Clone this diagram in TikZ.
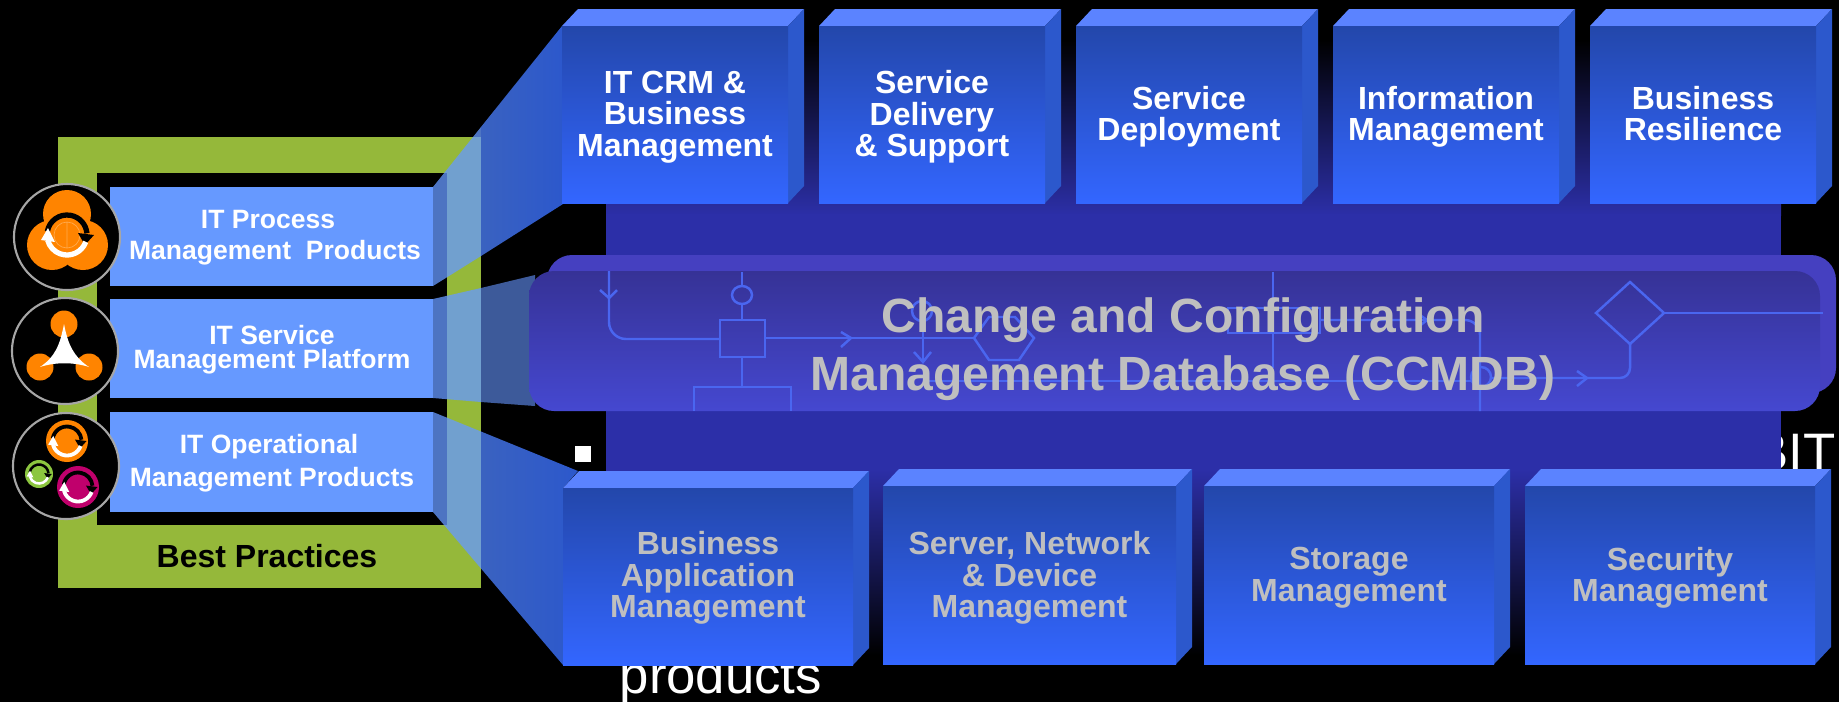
\documentclass[tikz,border=0pt]{standalone}
\usepackage{fontspec}
\setmainfont{Liberation Sans}
\definecolor{barblue}{HTML}{6699FF}
\definecolor{bestgreen}{HTML}{95B83A}
\definecolor{bandblue}{HTML}{2C2FA8}
\definecolor{topface}{HTML}{5B83FF}
\definecolor{sideface}{HTML}{2C58CC}
\definecolor{frontdark}{HTML}{2347AB}
\definecolor{frontlight}{HTML}{3366FF}
\definecolor{flowline}{HTML}{4A66F0}
\definecolor{labelgrey}{HTML}{BFBFBF}
\definecolor{iconorange}{HTML}{FF8400}
\definecolor{iconpink}{HTML}{C0006C}
\definecolor{icongreen}{HTML}{8CC63F}
\definecolor{wedgegrey}{HTML}{3D5A9A}
\definecolor{wedgeblue}{HTML}{3A62C0}
\definecolor{bandback}{HTML}{4540C0}
\definecolor{bandtop}{HTML}{363296}
\definecolor{bandbottom}{HTML}{4548D0}
\tikzset{
  boxlabel/.style={font=\bfseries\fontsize{9.1}{9}\selectfont, align=center, inner sep=0pt, text depth=2pt},
  barlabel/.style={font=\bfseries\fontsize{7.54}{#1}\selectfont, align=center, inner sep=0pt, text=white, text depth=2pt},
  backtext/.style={font=\fontsize{15}{16}\selectfont, text=white, inner sep=0pt},
  flow/.style={draw=flowline, line width=.7pt},
  ring/.style={circle, fill=black, draw=black!35, line width=.6pt, minimum size=1.06cm, inner sep=0pt},
}
\begin{document}
\begin{tikzpicture}[x=.01cm, y=-.01cm]
\fill[black] (0,0) rectangle (1839,702);
\useasboundingbox (0,0) rectangle (1839,702);

\fill[white] (575,446) rectangle (591,462);
\node[backtext, anchor=base east] (bit) at (1836,470) {BIT};
\node[backtext, anchor=base west] (products) at (619,693) {products};

\shade[top color=black, bottom color=bandblue] (606,40) rectangle (1781,215);
\fill[bandblue] (606,214) rectangle (1781,470);
\shade[top color=bandblue, bottom color=black] (606,469) rectangle (1781,655);

\fill[bestgreen] (58,137) rectangle (481,588);
\fill[black] (97,173) rectangle (447,525);
\node[font=\bfseries\fontsize{9.1}{10}\selectfont, inner sep=0pt] (best) at (267,556) {Best Practices};

\foreach \ya/\yb/\ytext/\yskip/\xtext [count=\i] in {187/286/{IT Process\hspace*{.14cm}\\Management\ \ Products}/9/275, 299/398/{IT Service\\Management Platform}/7/272, 412/512/{IT Operational\hspace*{.06cm}\\Management Products}/9.2/272}
{
    \fill[barblue] (110,\ya) rectangle (433,\yb);
    \node[barlabel=\yskip] (bar\i) at (\xtext,{(\ya+\yb)/2+2}) {\ytext};
}

\fill[barblue, opacity=.76] (433,187)--(481,127)--(481,256)--(433,286)--cycle;
\fill[barblue, opacity=.76] (433,299)--(481,288)--(481,402)--(433,398)--cycle;
\fill[barblue, opacity=.76] (433,412)--(481,431.5)--(481,568.5)--(433,512)--cycle;
\shade[left color=wedgeblue, right color=sideface] (481,127)--(562,26)--(563,204)--(481,256)--cycle;
\fill[wedgegrey] (481,288)--(535,275)--(535,406)--(481,402)--cycle;
\shade[left color=wedgeblue, right color=sideface] (481,431.5)--(578,471)--(563,488)--(563,665)--(481,568.5)--cycle;

\foreach \xa/\xb/\ya/\yb/\ytext [count=\i] in {562/788/26/203/{IT CRM \&\\Business\\Management}, 819/1045/26/203/{Service\\Delivery\\\& Support}, 1076/1302/26/203/{Service\\Deployment}, 1333/1559/26/203/{Information\\Management}, 1590/1816/26/203/{Business\\Resilience}}
{
    \fill[topface] (\xa,\ya)--(\xa+16,\ya-17)--(\xb+16,\ya-17)--(\xb,\ya)--cycle;
    \fill[sideface] (\xb,\ya)--(\xb+16,\ya-17)--(\xb+16,\yb-17)--(\xb,\yb)--cycle;
    \shade[top color=frontdark, bottom color=frontlight] (\xa,\ya) rectangle (\xb,\yb);
    \node[boxlabel, text=white] (top\i) at ({(\xa+\xb)/2},117) {\ytext};
}

\foreach \xa/\xb/\ya/\yb/\ytext [count=\i] in {563/853/488/665/{Business\\Application\\Management}, 883/1176/486/664/{Server, Network\\\& Device\\Management}, 1204/1494/486/664/{Storage\\Management}, 1525/1815/486/664/{Security\\Management}}
{
    \fill[topface] (\xa,\ya)--(\xa+16,\ya-17)--(\xb+16,\ya-17)--(\xb,\ya)--cycle;
    \fill[sideface] (\xb,\ya)--(\xb+16,\ya-17)--(\xb+16,\yb-17)--(\xb,\yb)--cycle;
    \shade[top color=frontdark, bottom color=frontlight] (\xa,\ya) rectangle (\xb,\yb);
    \node[boxlabel, text=labelgrey] (low\i) at ({(\xa+\xb)/2},578) {\ytext};
}

\fill[bandback, rounded corners=.25cm] (547,255) rectangle (1836,393);
\shade[rounded corners=.25cm, top color=bandtop, bottom color=bandbottom] (529,271) rectangle (1820,411);

\draw[flow, rounded corners=.17cm] (609,271)|-(720,339);
\draw[flow] (600,290)--(609,298)--(617,290);
\draw[flow] (742,272)--(742,286) (742,304)--(742,320);
\draw[flow] (742,295) circle[x radius=10, y radius=9];
\draw[flow] (720,320) rectangle (765,357);
\draw[flow] (742,357)--(742,387);
\draw[flow] (694,411)--(694,387)--(791,387)--(791,411);
\draw[flow] (765,338)--(974,338);
\draw[flow] (841,332)--(851,338)--(841,347);
\draw[flow] (922,311) circle[radius=10];
\draw[flow] (923,321)--(923,362);
\draw[flow] (914,352)--(923,362)--(931,352);
\draw[flow] (974,338)--(989,317)--(1015,317)--(1034,338)--(1019,360)--(989,360)--cycle;
\draw[flow] (923,381)--(1471,381);
\draw[flow] (1228,308) rectangle (1320,333);
\draw[flow, rounded corners=.15cm] (1320,320)-|(1480,411);
\draw[flow] (1417,313)--(1427,320)--(1417,328);
\draw[flow] (1273,272)--(1273,368);
\draw[flow] (1481,377) circle[radius=10];
\draw[flow, rounded corners=.1cm] (1491,378)-|(1630,343);
\draw[flow] (1577,371)--(1587,378)--(1577,386);
\draw[flow] (1664,313)--(1630,344)--(1596,313)--(1630,282)--cycle;
\draw[flow] (1664,313)--(1823,313);

\node[font=\bfseries\fontsize{13.66}{16.5}\selectfont, align=center, text=labelgrey, inner sep=0pt] (ccmdb) at (1183,349) {Change and Configuration\\Management Database (CCMDB)};

\node[ring] (iconA) at (67,237) {};
\node[ring] (iconB) at (65,351) {};
\node[ring] (iconC) at (66,466) {};

\fill[iconorange] (67,214) circle[radius=24] (52,245) circle[radius=25] (83,245) circle[radius=25];
\draw[iconorange!70!white, line width=.2pt] (67,235) circle[radius=13] (67,222)--(67,248);

\fill[iconorange] (64,324) circle[radius=13.5] (40,367) circle[radius=13.5] (89,367) circle[radius=13.5];
\fill[white] (64,324) .. controls (68,345) and (74,357) .. (89,367) .. controls (74,362) and (55,362) .. (40,367) .. controls (55,357) and (60,345) .. (64,324);

\fill[iconorange] (67,441) circle[radius=21];
\fill[iconpink] (78,487) circle[radius=21];
\fill[icongreen] (39,474) circle[radius=14];

\foreach \xc/\yc/\rc in {67/235/20, 67/441/14.5, 78/487/14.5, 39/474/9.5}
{
    \draw[line width=\rc*.075pt, black] ({\xc+\rc*cos(190)},{\yc+\rc*sin(190)}) arc[start angle=190, end angle=355, radius=\rc];
    \fill[black] ({\xc+.9*\rc},{\yc+.5*\rc})--({\xc+.55*\rc},{\yc-.1*\rc})--({\xc+1.35*\rc},{\yc})--cycle;
    \draw[line width=\rc*.075pt, white] ({\xc+\rc*cos(20)},{\yc+\rc*sin(20)}) arc[start angle=20, end angle=165, radius=\rc];
    \fill[white] ({\xc-.95*\rc},{\yc-.35*\rc})--({\xc-1.3*\rc},{\yc+.25*\rc})--({\xc-.6*\rc},{\yc+.35*\rc})--cycle;
}
\end{tikzpicture}
\end{document}
